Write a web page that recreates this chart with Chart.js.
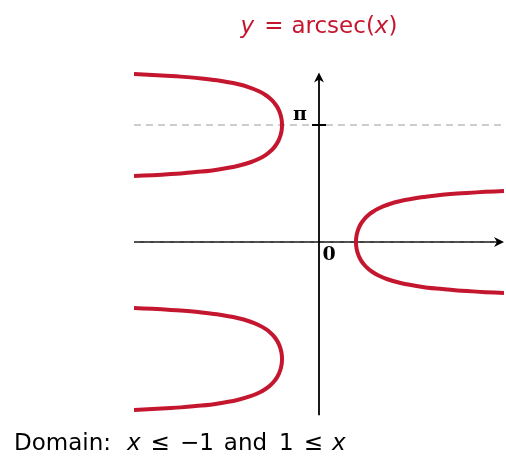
<!DOCTYPE html>
<html>
<head>
<meta charset="utf-8">
<script src="https://cdn.jsdelivr.net/npm/chart.js@4/dist/chart.umd.min.js"></script>
<style>
  html, body { margin: 0; padding: 0; background: #ffffff; }
  #wrap { position: relative; width: 506px; height: 460px; }
</style>
</head>
<body>
<div id="wrap"><canvas id="c" width="506" height="460"></canvas></div>
<script>
// Sample points of the secant curve: |x| values and the matching angle offset
// from the nearest multiple of pi (the curve is symmetric about each vertex).
const secX  = [1, 1.00125, 1.00502, 1.01133, 1.02034, 1.03226, 1.04675, 1.0857, 1.13949, 1.21163, 1.30746, 1.43532, 1.60872, 1.85082, 2.2046, 2.7597, 3.17135, 3.73833, 4, 4.5, 5];
const angle = [0, 0.05, 0.1, 0.15, 0.2, 0.25, 0.3, 0.4, 0.5, 0.6, 0.7, 0.8, 0.9, 1.0, 1.1, 1.2, 1.25, 1.3, 1.3181, 1.3467, 1.3694];

// Vertex centres of the three branches: [sign of x, y of vertex]
const branchCentres = [[1, 0], [-1, Math.PI], [-1, -Math.PI]];

// Axis ranges and labelled marks
const xRange = [-5, 5];
const yRange = [-4.7, 4.7];
const tickLabels = [{ text: 'π', value: Math.PI }, { text: '0', value: 0 }];

const CURVE = '#c4172f';
const TEXT_FONT = '"DejaVu Sans", "Liberation Sans", sans-serif';

function branch(sign, centre) {
  const pts = [];
  for (let i = secX.length - 1; i >= 0; i--) pts.push({ x: sign * secX[i], y: centre + angle[i] });
  for (let i = 1; i < secX.length; i++) pts.push({ x: sign * secX[i], y: centre - angle[i] });
  return pts;
}

const datasets = branchCentres.map(([s, c]) => ({
  data: branch(s, c),
  showLine: true,
  borderColor: CURVE,
  borderWidth: 4,
  pointRadius: 0,
  tension: 0.25,
  fill: false
}));

function arrow(ctx, x, y, dir) {
  ctx.save();
  ctx.translate(x, y);
  if (dir === 'up') ctx.rotate(-Math.PI / 2);
  ctx.beginPath();
  ctx.moveTo(0, 0);
  ctx.lineTo(-10, -5);
  ctx.lineTo(-7, 0);
  ctx.lineTo(-10, 5);
  ctx.closePath();
  ctx.fillStyle = '#000';
  ctx.fill();
  ctx.restore();
}

// Draws a run of text pieces; each piece may be italic and may carry extra space after it.
function drawRich(ctx, parts, x, y, size, color, align) {
  const fonts = parts.map(p => (p.it ? 'italic ' : '') + size + 'px ' + TEXT_FONT);
  let total = 0;
  parts.forEach((p, i) => { ctx.font = fonts[i]; total += ctx.measureText(p.t).width + (p.gap || 0); });
  let cx = align === 'center' ? x - total / 2 : x;
  ctx.fillStyle = color;
  ctx.textBaseline = 'alphabetic';
  ctx.textAlign = 'left';
  parts.forEach((p, i) => {
    ctx.font = fonts[i];
    ctx.fillText(p.t, cx, y);
    cx += ctx.measureText(p.t).width + (p.gap || 0);
  });
}

const underlay = {
  id: 'underlay',
  beforeDatasetsDraw(chart) {
    const { ctx, scales: { x, y }, chartArea } = chart;
    const y0 = y.getPixelForValue(0);
    const yPi = y.getPixelForValue(Math.PI);
    const x0 = x.getPixelForValue(0);
    ctx.save();
    // dashed guide at y = pi
    ctx.strokeStyle = '#bdbdbd';
    ctx.lineWidth = 1.5;
    ctx.setLineDash([7, 5]);
    ctx.beginPath();
    ctx.moveTo(chartArea.left, yPi);
    ctx.lineTo(chart.width, yPi);
    ctx.stroke();
    ctx.setLineDash([]);
    // horizontal axis
    ctx.strokeStyle = '#000';
    ctx.lineWidth = 1.6;
    ctx.beginPath();
    ctx.moveTo(x.getPixelForValue(xRange[0]), y0);
    ctx.lineTo(x.getPixelForValue(xRange[1]) - 4, y0);
    ctx.stroke();
    ctx.strokeStyle = '#5a5a5a';
    ctx.lineWidth = 1.4;
    ctx.setLineDash([6, 4]);
    ctx.beginPath();
    ctx.moveTo(x.getPixelForValue(xRange[0]), y0);
    ctx.lineTo(x.getPixelForValue(xRange[1]) - 8, y0);
    ctx.stroke();
    ctx.setLineDash([]);
    arrow(ctx, x.getPixelForValue(xRange[1]), y0, 'right');
    // vertical axis
    ctx.strokeStyle = '#000';
    ctx.lineWidth = 1.8;
    ctx.beginPath();
    ctx.moveTo(x0, y.getPixelForValue(-4.65));
    ctx.lineTo(x0, y.getPixelForValue(4.55) + 4);
    ctx.stroke();
    arrow(ctx, x0, y.getPixelForValue(4.55), 'up');
    // tick at pi
    ctx.lineWidth = 2;
    ctx.beginPath();
    ctx.moveTo(x0 - 7, yPi);
    ctx.lineTo(x0 + 7, yPi);
    ctx.stroke();
    // tick labels
    ctx.fillStyle = '#000';
    ctx.font = 'bold 19px "DejaVu Serif", "Liberation Serif", serif';
    ctx.textBaseline = 'middle';
    ctx.textAlign = 'center';
    ctx.fillText(tickLabels[0].text, x0 - 19, y.getPixelForValue(tickLabels[0].value) - 10);
    ctx.fillText(tickLabels[1].text, x0 + 10, y.getPixelForValue(tickLabels[1].value) + 13);
    ctx.restore();
  },
  afterDraw(chart) {
    const { ctx, chartArea } = chart;
    ctx.save();
    drawRich(ctx, [
      { t: 'y', it: true, gap: 10 }, { t: '=', gap: 8 }, { t: 'arcsec(' }, { t: 'x', it: true }, { t: ')' }
    ], (chartArea.left + chartArea.right) / 2, 33, 23, CURVE, 'center');
    drawRich(ctx, [
      { t: 'Domain:', gap: 16 }, { t: 'x', it: true, gap: 10 }, { t: '≤', gap: 10 },
      { t: '−1', gap: 10 }, { t: 'and', gap: 12 }, { t: '1', gap: 10 }, { t: '≤', gap: 9 }, { t: 'x', it: true }
    ], 14, 450, 23, '#000', 'left');
    ctx.restore();
  }
};

new Chart(document.getElementById('c'), {
  type: 'scatter',
  data: { datasets },
  options: {
    responsive: false,
    animation: false,
    layout: { padding: { left: 134, right: 2, top: 67, bottom: 43 } },
    plugins: { legend: { display: false }, tooltip: { enabled: false }, title: { display: false } },
    scales: {
      x: { type: 'linear', min: xRange[0], max: xRange[1], display: false },
      y: { type: 'linear', min: yRange[0], max: yRange[1], display: false }
    }
  },
  plugins: [underlay]
});
</script>
</body>
</html>
